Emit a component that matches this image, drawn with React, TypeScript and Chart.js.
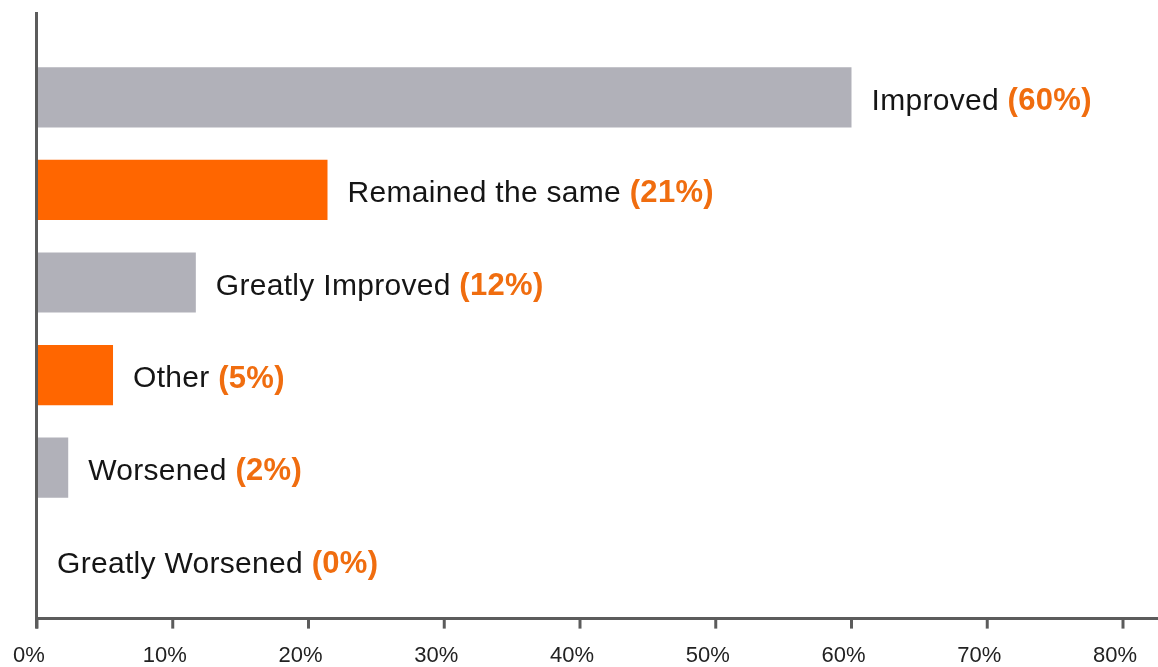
import React, { useEffect, useRef } from "react";
import { Chart, registerables } from "chart.js";

Chart.register(...registerables);

const categories = [
  "Improved",
  "Remained the same",
  "Greatly Improved",
  "Other",
  "Worsened",
  "Greatly Worsened",
];
const values = [60, 21.4, 11.7, 5.6, 2.3, 0];
const percentLabels = ["(60%)", "(21%)", "(12%)", "(5%)", "(2%)", "(0%)"];
const xTickValues = [0, 10, 20, 30, 40, 50, 60, 70, 80];

const GRAY = "#b1b1b9";
const ORANGE = "#ff6600";
const ORANGE_TEXT = "#f06d0f";
const AXIS = "#5c5c5c";
const FONT = "'Liberation Sans', Arial, sans-serif";

const annotationPlugin = {
  id: "customDecor",
  afterDatasetsDraw(chart: any) {
    const { ctx } = chart;
    const meta = chart.getDatasetMeta(0);
    ctx.save();
    ctx.textBaseline = "middle";
    ctx.textAlign = "left";
    (ctx as any).letterSpacing = "0.3px";
    meta.data.forEach((bar: any, i: number) => {
      const x = bar.x + 20;
      const y = bar.y + 4;
      ctx.font = `30px ${FONT}`;
      ctx.fillStyle = "#151515";
      const main = categories[i] + " ";
      ctx.fillText(main, x, y);
      const w = ctx.measureText(main).width;
      ctx.font = `bold 31px ${FONT}`;
      ctx.fillStyle = ORANGE_TEXT;
      ctx.fillText(percentLabels[i], x + w, y);
    });
    ctx.restore();
  },
  afterDraw(chart: any) {
    const { ctx, chartArea, scales } = chart;
    const axisY = chartArea.bottom + 12;
    const topY = chartArea.top - 39;
    ctx.save();
    ctx.strokeStyle = AXIS;
    ctx.lineWidth = 3;
    ctx.beginPath();
    ctx.moveTo(chartArea.left - 0.5, topY);
    ctx.lineTo(chartArea.left - 0.5, axisY + 10);
    ctx.moveTo(chartArea.left - 0.5, axisY);
    ctx.lineTo(chart.width, axisY);
    ctx.stroke();
    xTickValues.forEach((v) => {
      const px = scales.x.getPixelForValue(v);
      ctx.beginPath();
      ctx.moveTo(px, axisY);
      ctx.lineTo(px, axisY + 10);
      ctx.stroke();
    });
    ctx.restore();
  },
};

export default function App() {
  const canvasRef = useRef<HTMLCanvasElement | null>(null);

  useEffect(() => {
    const canvas = canvasRef.current;
    if (!canvas) return;
    const chart = new Chart(canvas, {
      type: "bar",
      data: {
        labels: categories,
        datasets: [
          {
            data: values,
            backgroundColor: categories.map((_, i) => (i % 2 === 0 ? GRAY : ORANGE)),
            borderWidth: 0,
            categoryPercentage: 1,
            barPercentage: 0.65,
          },
        ],
      },
      options: {
        indexAxis: "y",
        responsive: false,
        animation: false,
        layout: { padding: { top: 51, left: 37, right: 35, bottom: -38 } },
        plugins: {
          legend: { display: false },
          tooltip: { enabled: false },
        },
        scales: {
          x: {
            min: 0,
            max: 80,
            grid: { display: false, drawTicks: false },
            border: { display: false },
            afterFit: (scale: any) => {
              scale.paddingLeft = 0;
              scale.paddingRight = 0;
            },
            ticks: {
              stepSize: 10,
              padding: 36,
              labelOffset: -8,
              color: "#222222",
              font: { family: FONT, size: 22 },
              callback: (v: any) => v + "%",
            },
          },
          y: {
            grid: { display: false, drawTicks: false },
            border: { display: false },
            ticks: { display: false },
          },
        },
      },
      plugins: [annotationPlugin],
    });
    return () => chart.destroy();
  }, []);

  return (
    <div style={{ position: "fixed", left: 0, top: 0, width: 1158, height: 667, background: "#ffffff" }}>
      <canvas ref={canvasRef} width={1158} height={667} style={{ display: "block" }} />
    </div>
  );
}
